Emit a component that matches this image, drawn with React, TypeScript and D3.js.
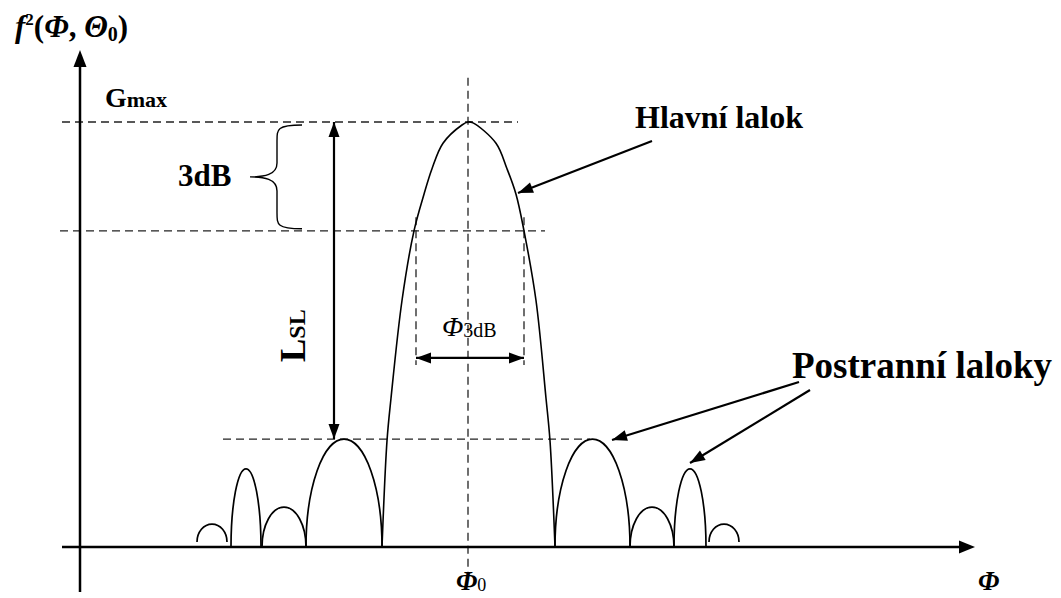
import React from "react";
import * as d3 from "d3";

// Radiation pattern f²(Φ, Θ0): Φ offset from beam axis, normalised power.
const mainLobe: [number, number][] = [
  [-8.6, 0], [-8.1, 0.25], [-7.7, 0.35], [-6.6, 0.58], [-5.4, 0.744],
  [-4.4, 0.83], [-3.6, 0.89], [-2.5, 0.95], [-0.6, 0.993], [0, 1.0],
  [0.5, 0.998], [2.8, 0.95], [3.9, 0.89], [4.8, 0.83], [5.6, 0.744],
  [6.8, 0.58], [7.8, 0.35], [8.2, 0.25], [8.7, 0],
];

// Side lobes: start Φ, end Φ, peak level, foot level
const lobeFrom = [-27.1, -23.7, -20.6, -16.2, 8.7, 16.2, 20.6, 24.1];
const lobeTo = [-24.1, -20.7, -16.2, -8.6, 16.2, 20.6, 23.8, 27.1];
const lobePeak = [0.054, 0.184, 0.094, 0.254, 0.254, 0.094, 0.184, 0.054];
const lobeFoot = [0.012, 0, 0, 0, 0, 0, 0, 0.012];

// Reference levels
const levelMax = 1.0;
const level3dB = 0.744;
const levelSide = 0.254;
const beamEdges: [number, number] = [-5.2, 5.6];

const W = 1061;
const H = 598;

const x = d3.scaleLinear().domain([-40, 50]).range([68, 968]);
const y = d3.scaleLinear().domain([0, 1]).range([547, 122]);

const line = d3
  .line<[number, number]>()
  .x((d) => x(d[0]))
  .y((d) => y(d[1]))
  .curve(d3.curveCatmullRom.alpha(0.5));

function lobePath(i: number) {
  const x0 = x(lobeFrom[i]);
  const x1 = x(lobeTo[i]);
  const yb = y(lobeFoot[i]);
  const rx = (x1 - x0) / 2;
  const ry = yb - y(lobePeak[i]);
  return `M${x0},${yb} A${rx},${ry} 0 0 1 ${x1},${yb}`;
}

function head(tx: number, ty: number, fx: number, fy: number, len = 15, half = 5.5) {
  const a = Math.atan2(ty - fy, tx - fx);
  const bx = tx - len * Math.cos(a);
  const by = ty - len * Math.sin(a);
  const px = -Math.sin(a) * half;
  const py = Math.cos(a) * half;
  return `${tx},${ty} ${bx + px},${by + py} ${bx - px},${by - py}`;
}

function Arrow({ x1, y1, x2, y2, both = false, w = 2.2 }: any) {
  return (
    <g>
      <line x1={x1} y1={y1} x2={x2} y2={y2} stroke="#000" strokeWidth={w} />
      <polygon points={head(x2, y2, x1, y1)} fill="#000" />
      {both && <polygon points={head(x1, y1, x2, y2)} fill="#000" />}
    </g>
  );
}

const dash = { stroke: "#222", strokeWidth: 1.3, strokeDasharray: "8 5", fill: "none" };
const serif = "'Liberation Serif', 'Times New Roman', serif";

export default function App() {
  const yAxisX = x(-38.8);
  const xAxisEnd = x(50.7);
  const b = { xr: 302, xm: 277, xp: 250, top: y(levelMax) + 3, bot: y(level3dB) - 2 };
  const midY = (b.top + b.bot) / 2;
  const brace = `M${b.xr},${b.top} C${b.xm},${b.top} ${b.xm},${b.top + 4} ${b.xm},${b.top + 16}
    L${b.xm},${midY - 14} C${b.xm},${midY - 2} ${b.xp + 14},${midY} ${b.xp},${midY}
    C${b.xp + 14},${midY} ${b.xm},${midY + 2} ${b.xm},${midY + 14}
    L${b.xm},${b.bot - 16} C${b.xm},${b.bot - 4} ${b.xm},${b.bot} ${b.xr},${b.bot}`;

  return (
    <svg
      width={W}
      height={H}
      style={{ position: "absolute", left: 0, top: 0, display: "block", background: "#fff" }}
      fontFamily={serif}
    >
      {/* guide lines */}
      <line x1={x(-40.6)} x2={x(5.0)} y1={y(levelMax)} y2={y(levelMax)} {...dash} />
      <line x1={x(-40.8)} x2={x(7.7)} y1={y(level3dB)} y2={y(level3dB)} {...dash} />
      <line x1={x(-24.5)} x2={x(12.2)} y1={y(levelSide)} y2={y(levelSide)} {...dash} />
      <line x1={x(0)} x2={x(0)} y1={y(1.104)} y2={y(-0.061)} {...dash} />
      {beamEdges.map((e) => (
        <line key={e} x1={x(e)} x2={x(e)} y1={y(0.776)} y2={y(0.428)} {...dash} />
      ))}

      {/* axes */}
      <line x1={yAxisX} x2={yAxisX} y1={592} y2={60} stroke="#000" strokeWidth={2.5} />
      <polygon points={head(yAxisX, 50, yAxisX, 100, 17, 6.5)} fill="#000" />
      <line x1={62} x2={xAxisEnd - 10} y1={y(0)} y2={y(0)} stroke="#000" strokeWidth={2.5} />
      <polygon points={head(xAxisEnd, y(0), xAxisEnd - 50, y(0), 16, 6.5)} fill="#000" />

      {/* pattern */}
      <path d={line(mainLobe) || ""} fill="none" stroke="#000" strokeWidth={1.6} />
      {lobeFrom.map((_, i) => (
        <path key={i} d={lobePath(i)} fill="none" stroke="#000" strokeWidth={1.7} />
      ))}

      {/* dimension arrows */}
      <Arrow x1={x(-13.4)} y1={y(levelMax)} x2={x(-13.4)} y2={y(levelSide)} both />
      <Arrow x1={x(beamEdges[0])} y1={y(0.445)} x2={x(beamEdges[1])} y2={y(0.445)} both w={2.4} />
      <path d={brace} fill="none" stroke="#000" strokeWidth={1.4} />

      {/* pointers */}
      <Arrow x1={652} y1={141} x2={518} y2={193} />
      <Arrow x1={799} y1={382} x2={612} y2={440} />
      <Arrow x1={810} y1={390} x2={690} y2={463} />

      {/* labels */}
      <text x={15} y={37} fontSize={31} fontWeight="bold">
        <tspan fontStyle="italic">f</tspan>
        <tspan fontSize={17} dy={-12}>2</tspan>
        <tspan dy={12}>(</tspan>
        <tspan fontStyle="italic">Φ</tspan>
        <tspan>, </tspan>
        <tspan fontStyle="italic">Θ</tspan>
        <tspan fontSize={20} dy={4}>0</tspan>
        <tspan dy={-4}>)</tspan>
      </text>
      <text x={105} y={107} fontWeight="bold">
        <tspan fontSize={28}>G</tspan>
        <tspan fontSize={22}>max</tspan>
      </text>
      <text x={178} y={186} fontSize={31} fontWeight="bold">3dB</text>
      <text transform={`translate(305,362) rotate(-90)`} fontWeight="bold">
        <tspan fontSize={35}>L</tspan>
        <tspan fontSize={24}>SL</tspan>
      </text>
      <text x={442} y={336}>
        <tspan fontSize={28} fontStyle="italic">Φ</tspan>
        <tspan fontSize={20} dy={1}>3dB</tspan>
      </text>
      <text x={635} y={128} fontSize={32} fontWeight="bold">Hlavní lalok</text>
      <text x={792} y={378} fontSize={37} fontWeight="bold">Postranní laloky</text>
      <text x={456} y={590}>
        <tspan fontSize={27} fontStyle="italic" fontWeight="bold">Φ</tspan>
        <tspan fontSize={18} dy={1}>0</tspan>
      </text>
      <text x={978} y={590} fontSize={27} fontStyle="italic" fontWeight="bold">Φ</text>
    </svg>
  );
}
